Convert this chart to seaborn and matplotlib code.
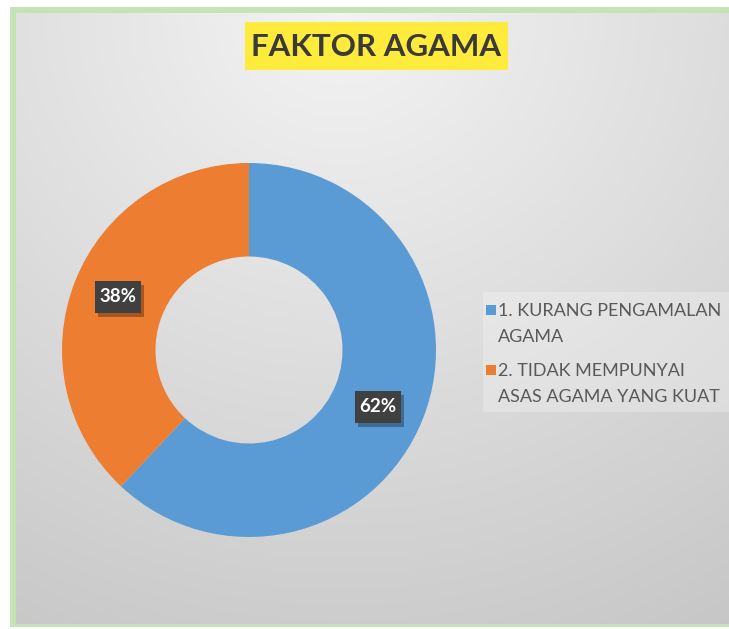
import numpy as np
import matplotlib
matplotlib.use("Agg")
import matplotlib.pyplot as plt
import seaborn as sns
from matplotlib.patches import Rectangle

sns.set_theme(style="white")
plt.rcParams['font.family'] = ['Lato', 'DejaVu Sans']

# Data
title = "FAKTOR AGAMA"
categories = ["1. KURANG PENGAMALAN\nAGAMA", "2. TIDAK MEMPUNYAI\nASAS AGAMA YANG KUAT"]
values = [62, 38]
colors = ["#5B9BD5", "#ED7D31"]

W, H = 729, 629
fig = plt.figure(figsize=(W / 100, H / 100), dpi=100)

# Background layer
bg = fig.add_axes([0, 0, 1, 1])
bg.set_zorder(0)
bg.axis("off")
green = "#C5E3B5"
# green frame strips (left, top, bottom)
bg.add_patch(Rectangle((10, 7), 6, 620, facecolor=green, edgecolor="none", zorder=0))
bg.add_patch(Rectangle((10, 7), W, 6, facecolor=green, edgecolor="none", zorder=0))
bg.add_patch(Rectangle((10, 624), W, 3, facecolor=green, edgecolor="none", zorder=0))
bg.add_patch(Rectangle((16, 13), W, 611, facecolor="#D8D8D8", edgecolor="none", zorder=0.5))
# radial gradient
x0, y0, x1, y1 = 16, 13, W + 10, 624
yy, xx = np.mgrid[0:200, 0:200]
gx = xx / 199.0
gy = yy / 199.0
d = np.sqrt(((gx - 0.45) / 1.0) ** 2 + ((gy - 0.0) / 1.1) ** 2)
d = np.clip(d / 1.05, 0, 1)
light = np.array([0.955, 0.955, 0.955])
dark = np.array([0.78, 0.78, 0.78])
img = light[None, None, :] * (1 - d[..., None]) + dark[None, None, :] * d[..., None]
bg.imshow(img, extent=(x0, x1, y1, y0), aspect="auto", zorder=1, interpolation="bilinear")

# title box
bg.add_patch(Rectangle((245, 22), 263, 48, facecolor="#FFEB3B", edgecolor="none", zorder=2))
bg.text(376.5, 47, title, ha="center", va="center", fontsize=22.5, fontweight="bold",
        color="#3A3A3A", zorder=3)

# legend box
bg.add_patch(Rectangle((483, 292), 250, 120, facecolor="white", alpha=0.25, edgecolor="none", zorder=2))
bg.set_xlim(0, W)
bg.set_ylim(H, 0)

# Donut
cx, cy, R = 249, 350, 187
ax = fig.add_axes([(cx - R) / W, 1 - (cy + R) / H, 2 * R / W, 2 * R / H])
ax.set_zorder(1)
wedges, _ = ax.pie(values, colors=colors, startangle=90, counterclock=False,
                   radius=1.0, wedgeprops=dict(width=0.5, edgecolor="none"))
ax.set_xlim(-1, 1)
ax.set_ylim(-1, 1)
ax.set_aspect("equal")
ax.axis("off")

# Overlay layer: labels and legend
top = fig.add_axes([0, 0, 1, 1])
top.set_zorder(2)
top.set_xlim(0, W)
top.set_ylim(H, 0)
top.axis("off")
top.patch.set_alpha(0)
label_pos = [(378, 407), (118, 297)]
for (lx, ly), v in zip(label_pos, values):
    top.add_patch(Rectangle((lx - 23 + 3, ly - 16 + 4), 46, 32, facecolor="black", alpha=0.3,
                            edgecolor="none"))
    top.add_patch(Rectangle((lx - 23, ly - 16), 46, 32, facecolor="#404040", edgecolor="none"))
    top.text(lx, ly, f"{v}%", ha="center", va="center", fontsize=13.5, fontweight="bold",
             color="white")

leg_y = [310, 370]
for c, lab, y in zip(colors, categories, leg_y):
    top.add_patch(Rectangle((486, y - 5), 10, 10, facecolor=c, edgecolor="none"))
    top.text(498, y - 7, lab, ha="left", va="top", fontsize=13, color="#595959",
             linespacing=1.8)

fig.savefig("out.png", dpi=100)
